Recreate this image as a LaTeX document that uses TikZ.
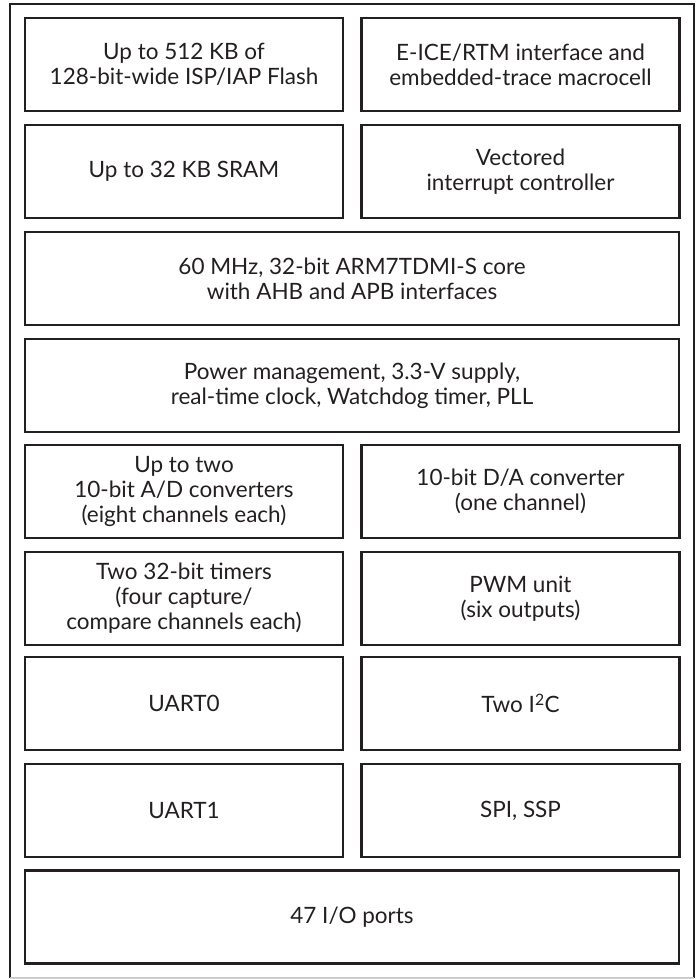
\documentclass[tikz,border=0pt]{standalone}
\usepackage{fontspec}
\setmainfont{Lato}
\definecolor{ink}{HTML}{231F20}
\begin{document}
\begin{tikzpicture}[x=1pt,y=-1pt,
  blk/.style={draw=ink, line width=2.2pt, rectangle, minimum height=93pt, align=center,
    text=ink, font=\fontsize{22.5}{25}\selectfont, inner sep=0pt},
  half/.style={blk, minimum width=318pt},
  full/.style={blk, minimum width=654pt}]
\useasboundingbox (0,0) rectangle (697,979);
\fill[white] (0,0) rectangle (697,979);
% outer frame
\draw[ink, line width=2pt] (10,978) -- (10,4.5) -- (694,4.5) -- (694,978);
\draw[gray!40, line width=1.2pt] (10,978) -- (694,978);
% rows
\node[half] (flash) at (184,64.5) {Up to 512 KB of\\128-bit-wide ISP/IAP Flash};
\node[half] (eice) at (520.5,64.5) {E-ICE/RTM interface and\\embedded-trace macrocell};
\node[half] (sram) at (184,171.5) {Up to 32 KB SRAM};
\node[half] (vic) at (520.5,171.5) {Vectored\\interrupt controller};
\node[full] (core) at (352,278.5) {60 MHz, 32-bit ARM7TDMI-S core\\with AHB and APB interfaces};
\node[full] (power) at (352,385.5) {Power management, 3.3-V supply,\\real-time clock, Watchdog timer, PLL};
\node[half] (adc) at (184,491.5) {Up to two\\10-bit A/D converters\\(eight channels each)};
\node[half] (dac) at (520.5,491.5) {10-bit D/A converter\\(one channel)};
\node[half] (timers) at (184,598.5) {Two 32-bit timers\\(four capture/\\compare channels each)};
\node[half] (pwm) at (520.5,598.5) {PWM unit\\(six outputs)};
\node[half] (uart0) at (184,703.5) {UART0};
\node[half] (i2c) at (520.5,703.5) {Two I\textsuperscript{2}C};
\node[half] (uart1) at (184,810.5) {UART1};
\node[half] (spi) at (520.5,810.5) {SPI, SSP};
\node[full] (io) at (352,917) {47 I/O ports};
\end{tikzpicture}
\end{document}
